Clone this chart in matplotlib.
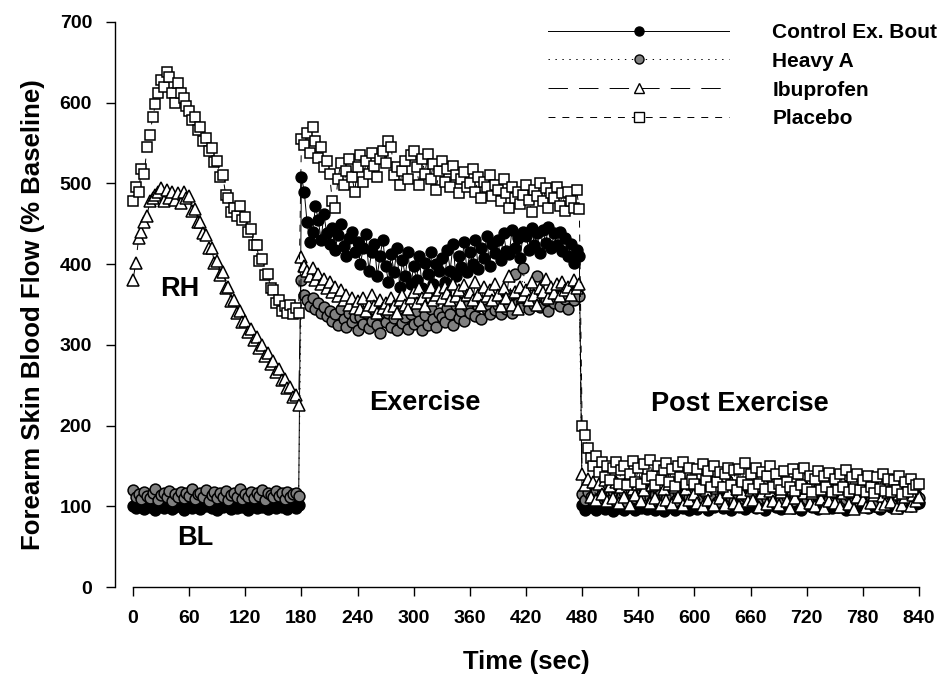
import numpy as np
import matplotlib
matplotlib.use("Agg")
import matplotlib.pyplot as plt

plt.rcParams['font.family'] = ['Liberation Sans', 'DejaVu Sans']
plt.rcParams['font.weight'] = 'bold'
plt.rcParams['lines.scale_dashes'] = False

# sampling times (sec): baseline/RH, exercise, post exercise
time_bl = np.arange(0, 180, 3)
time_ex = np.arange(180, 480, 3)
time_post = np.arange(480, 841, 3)
time = np.concatenate([time_bl, time_ex, time_post])

series_labels = ["Control Ex. Bout", "Heavy A", "Ibuprofen", "Placebo"]

control = [
    100, 98, 103, 101, 97, 104, 99, 102, 96, 101,
    105, 98, 100, 103, 97, 99, 102, 100, 96, 104,
    101, 98, 103, 99, 97, 102, 100, 105, 98, 101,
    96, 103, 99, 100, 104, 97, 102, 98, 101, 99,
    103, 96, 100, 102, 98, 105, 99, 101, 97, 103,
    100, 98, 102, 99, 104, 97, 101, 100, 98, 102,
    # exercise
    508, 490, 452, 428, 440, 472, 455, 430, 462, 438,
    425, 445, 418, 436, 450, 422, 410, 432, 440, 415,
    428, 400, 420, 437, 392, 415, 425, 385, 410, 430,
    398, 378, 412, 390, 420, 372, 405, 385, 415, 375,
    398, 380, 410, 370, 402, 388, 415, 376, 400, 392,
    408, 378, 418, 392, 425, 385, 410, 396, 428, 390,
    415, 400, 430, 394, 420, 408, 435, 398, 425, 414,
    430, 405, 438, 416, 412, 442, 420, 432, 408, 440,
    435, 418, 445, 424, 438, 414, 442, 426, 446, 420,
    438, 424, 440, 416, 432, 410, 425, 402, 418, 410,
    # post exercise
    102, 96, 108, 99, 104, 95, 110, 101, 97, 106,
    100, 94, 105, 98, 108, 96, 102, 99, 107, 95,
    103, 98, 110, 97, 101, 105, 96, 108, 100, 94,
    104, 99, 107, 96, 102, 109, 98, 103, 95, 106,
    101, 97, 108, 100, 104, 96, 110, 99, 102, 105,
    98, 106, 101, 95, 108, 103, 99, 104, 97, 107,
    100, 105, 98, 109, 102, 96, 104, 101, 107, 99,
    103, 97, 106, 100, 108, 98, 102, 105, 96, 104,
    101, 107, 99, 103, 97, 109, 102, 100, 106, 98,
    104, 99, 108, 101, 96, 105, 103, 98, 107, 100,
    102, 106, 98, 104, 100, 109, 97, 103, 101, 105,
    99, 107, 102, 98, 105, 101, 104, 100, 106, 103,
    104,
]

heavy_a = [
    120, 112, 115, 109, 118, 113, 110, 116, 121, 108,
    114, 117, 111, 119, 106, 115, 112, 118, 110, 116,
    113, 122, 109, 115, 117, 111, 120, 107, 114, 118,
    110, 116, 112, 119, 108, 114, 117, 111, 121, 109,
    115, 112, 118, 110, 116, 113, 120, 108, 117, 114,
    111, 119, 113, 116, 109, 118, 112, 115, 117, 113,
    # exercise
    380, 362, 355, 348, 358, 345, 352, 340, 347, 336,
    342, 330, 338, 325, 345, 332, 322, 340, 328, 335,
    318, 334, 326, 340, 321, 330, 344, 324, 315, 336,
    328, 340, 322, 333, 318, 345, 327, 335, 320, 338,
    326, 342, 330, 318, 337, 325, 345, 332, 322, 340,
    335, 328, 346, 338, 324, 350, 333, 342, 330, 348,
    340, 355, 336, 348, 332, 352, 345, 338, 358, 343,
    350, 338, 356, 345, 362, 340, 388, 352, 346, 395,
    358, 344, 362, 350, 385, 347, 360, 355, 342, 365,
    352, 362, 348, 370, 357, 345, 364, 355, 368, 360,
    # post exercise
    115, 108, 118, 112, 106, 120, 110, 114, 117, 109,
    113, 119, 107, 115, 111, 118, 105, 116, 112, 110,
    117, 108, 114, 120, 111, 106, 115, 119, 109, 113,
    110, 116, 112, 107, 118, 114, 109, 117, 111, 115,
    106, 113, 119, 110, 115, 108, 117, 112, 105, 116,
    114, 109, 118, 111, 107, 115, 120, 110, 113, 108,
    116, 112, 106, 117, 110, 114, 109, 118, 111, 105,
    113, 108, 116, 111, 119, 107, 114, 110, 117, 112,
    109, 115, 106, 118, 112, 108, 116, 113, 110, 114,
    117, 111, 107, 115, 109, 113, 118, 106, 112, 110,
    114, 108, 116, 111, 105, 117, 112, 109, 115, 107,
    111, 116, 109, 113, 107, 115, 110, 112, 108, 114,
    110,
]

ibuprofen = [
    380, 402, 432, 440, 452, 460, 478, 482, 486, 490,
    494, 478, 492, 482, 490, 480, 488, 476, 490, 482,
    484, 466, 468, 452, 452, 438, 436, 420, 420, 402,
    404, 386, 390, 370, 372, 354, 356, 340, 342, 328,
    330, 316, 320, 306, 310, 296, 300, 286, 290, 276,
    280, 266, 270, 256, 258, 246, 248, 236, 238, 226,
    # exercise
    409, 398, 392, 385, 395, 380, 388, 375, 382, 370,
    378, 365, 372, 360, 368, 355, 362, 350, 358, 346,
    354, 345, 358, 342, 350, 362, 348, 340, 355, 346,
    352, 344, 358, 348, 340, 355, 362, 350, 345, 358,
    365, 352, 370, 358, 348, 366, 372, 355, 362, 368,
    358, 372, 364, 355, 376, 360, 368, 352, 374, 362,
    366, 355, 378, 362, 350, 372, 360, 368, 356, 375,
    362, 348, 370, 358, 385, 350, 366, 345, 372, 360,
    368, 355, 378, 362, 350, 370, 365, 382, 358, 372,
    364, 375, 360, 378, 368, 372, 362, 380, 370, 375,
    # post exercise
    140, 126, 134, 112, 130, 108, 128, 115, 132, 106,
    125, 110, 130, 104, 124, 112, 133, 102, 122, 114,
    128, 106, 120, 134, 104, 126, 110, 130, 102, 121,
    108, 127, 103, 124, 112, 132, 101, 122, 108, 128,
    115, 104, 126, 100, 120, 108, 128, 102, 123, 110,
    124, 102, 118, 130, 104, 121, 100, 116, 127, 106,
    120, 108, 125, 99, 116, 129, 103, 119, 107, 124,
    102, 118, 126, 106, 98, 121, 110, 124, 100, 117,
    123, 104, 117, 100, 126, 109, 98, 120, 106, 122,
    104, 121, 99, 116, 125, 103, 118, 97, 112, 123,
    108, 99, 120, 104, 114, 124, 100, 113, 103, 118,
    105, 119, 98, 115, 102, 112, 121, 100, 114, 106,
    112,
]

placebo = [
    478, 495, 490, 518, 512, 545, 560, 582, 598, 612,
    628, 620, 638, 632, 612, 600, 624, 612, 606, 596,
    590, 578, 582, 566, 570, 552, 556, 540, 544, 526,
    528, 508, 510, 486, 482, 465, 470, 460, 472, 455,
    458, 440, 444, 424, 424, 404, 406, 386, 388, 370,
    368, 352, 356, 342, 348, 340, 350, 338, 346, 340,
    # exercise
    555, 548, 562, 538, 570, 552, 532, 545, 520, 528,
    512, 478, 470, 505, 525, 498, 515, 530, 508, 490,
    520, 535, 502, 528, 512, 538, 522, 508, 530, 540,
    525, 552, 545, 510, 520, 498, 515, 528, 505, 535,
    540, 520, 498, 530, 512, 536, 505, 524, 492, 515,
    528, 502, 518, 495, 522, 510, 488, 506, 514, 496,
    500, 518, 490, 508, 482, 502, 495, 510, 485, 498,
    492, 478, 505, 488, 470, 496, 482, 490, 475, 486,
    498, 480, 465, 492, 485, 500, 478, 494, 470, 488,
    482, 495, 472, 488, 466, 490, 478, 470, 492, 468,
    # post exercise
    200, 188, 172, 160, 150, 162, 142, 155, 136, 150,
    132, 148, 155, 128, 145, 150, 126, 140, 156, 130,
    147, 128, 152, 134, 157, 138, 126, 150, 132, 145,
    154, 130, 146, 125, 150, 136, 155, 128, 148, 133,
    128, 146, 122, 152, 132, 144, 124, 150, 130, 143,
    124, 140, 148, 126, 145, 120, 146, 130, 154, 126,
    140, 122, 147, 128, 143, 121, 138, 150, 124, 140,
    128, 120, 144, 130, 124, 146, 119, 140, 126, 147,
    122, 138, 118, 134, 144, 120, 137, 124, 141, 118,
    134, 120, 140, 124, 145, 118, 136, 122, 140, 120,
    133, 118, 138, 124, 116, 136, 121, 140, 119, 134,
    118, 132, 120, 137, 115, 130, 118, 134, 121, 126,
    128,
]

x_ticks = list(range(0, 841, 60))
y_ticks = list(range(0, 701, 100))

W, H = 951, 680
fig = plt.figure(figsize=(W / 100, H / 100), dpi=100)
ax = fig.add_axes([133 / W, 1 - 587 / H, (919 - 133) / W, (587 - 22) / H])

styles = [
    dict(marker='o', mfc='black', mec='black', ms=7.8, ls='-'),
    dict(marker='o', mfc='#808080', mec='black', ms=7.8, ls=(0, (1, 4))),
    dict(marker='^', mfc='white', mec='black', ms=8.0, ls=(0, (14, 8))),
    dict(marker='s', mfc='white', mec='black', ms=6.6, ls=(0, (5, 5))),
]
for vals, lab, st in zip([control, heavy_a, ibuprofen, placebo], series_labels, styles):
    ax.plot(time, vals, color='black', lw=0.7, mew=1.1, label=lab, clip_on=False, **st)

ax.set_xlim(0, 840)
ax.set_ylim(0, 700)
ax.set_xticks(x_ticks)
ax.set_yticks(y_ticks)
for s in ['top', 'right']:
    ax.spines[s].set_visible(False)
ax.spines['left'].set_position(('outward', 13))
for s in ['left', 'bottom']:
    ax.spines[s].set_linewidth(1.0)
ax.tick_params(axis='both', direction='out', length=6.5, width=1.0, pad=10,
               labelsize=14)
for lbl in ax.get_xticklabels() + ax.get_yticklabels():
    lbl.set_fontweight('bold')

ax.set_xlabel("Time (sec)", fontsize=18.5, fontweight='bold')
ax.set_ylabel("Forearm Skin Blood Flow (% Baseline)", fontsize=18.5, fontweight='bold')
ax.xaxis.set_label_coords(526 / W, 1 - 650 / H, transform=fig.transFigure)
ax.xaxis.label.set_va('top')
ax.yaxis.label.set_va('center')
ax.yaxis.set_label_coords(33 / W, 1 - 315 / H, transform=fig.transFigure)

tfs = 19.5
ax.text(50, 369, "RH", ha='center', va='center', fontsize=tfs, fontweight='bold')
ax.text(66, 61, "BL", ha='center', va='center', fontsize=tfs, fontweight='bold')
ax.text(312, 228, "Exercise", ha='center', va='center', fontsize=tfs, fontweight='bold')
ax.text(648, 227, "Post Exercise", ha='center', va='center', fontsize=tfs, fontweight='bold')

leg = ax.legend(loc='upper left', bbox_to_anchor=(548 / W, 1 - 23 / H),
                bbox_transform=fig.transFigure, frameon=False, numpoints=1,
                handlelength=8.7, handletextpad=2.07, labelspacing=0.47,
                borderpad=0, borderaxespad=0,
                prop={'weight': 'bold', 'size': 15})
for h in leg.legend_handles:
    h.set_markersize(6.5)
    h.set_markeredgewidth(1.0)

fig.savefig("out.png", dpi=100)
